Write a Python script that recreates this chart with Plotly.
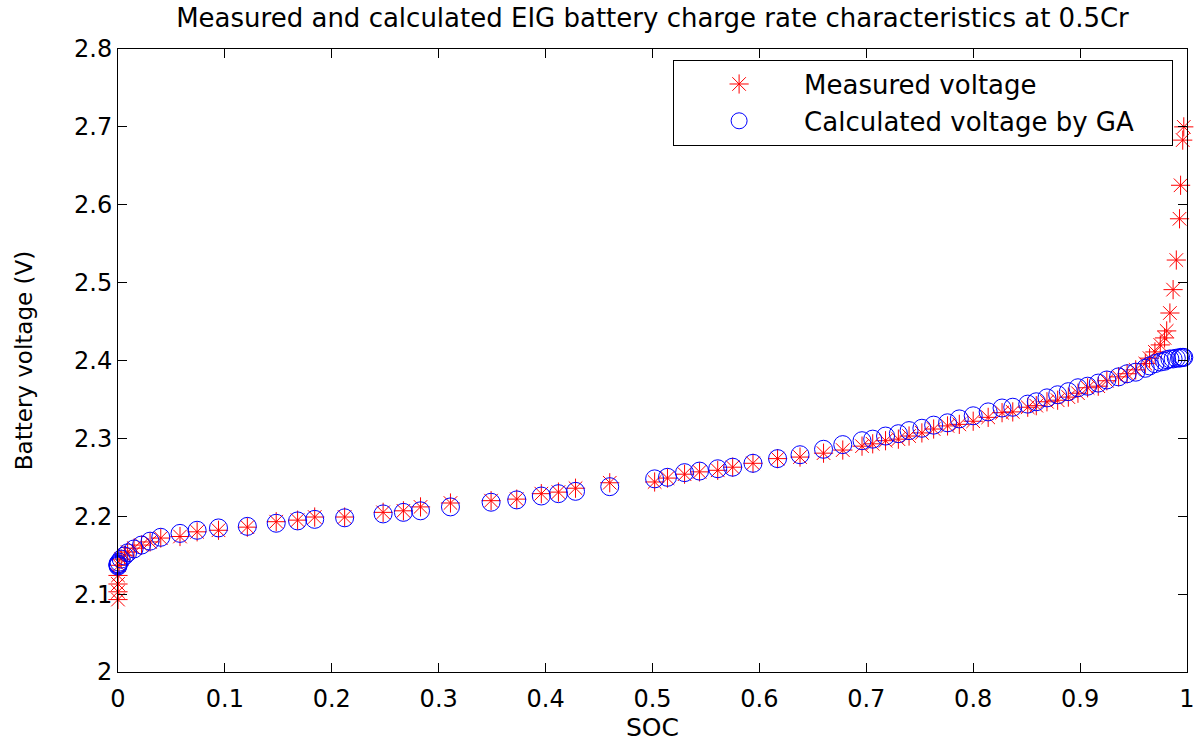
import plotly.graph_objects as go

# ---- data ----
soc = [0.000, 0.000, 0.000, 0.000, 0.001, 0.003, 0.006, 0.009, 0.015, 0.022,
       0.030, 0.040, 0.058, 0.074, 0.094, 0.121, 0.148, 0.168, 0.184, 0.212,
       0.248, 0.267, 0.283, 0.311, 0.349, 0.373, 0.396, 0.412, 0.428, 0.460,
       0.502, 0.514, 0.530, 0.544, 0.561, 0.575, 0.594, 0.617, 0.638, 0.660,
       0.678, 0.696, 0.706, 0.718, 0.730, 0.740, 0.752, 0.763, 0.776, 0.787,
       0.800, 0.814, 0.827, 0.837, 0.851, 0.859, 0.869, 0.879, 0.889, 0.898,
       0.907, 0.917, 0.925, 0.936, 0.944, 0.952, 0.961, 0.965, 0.970, 0.975,
       0.979, 0.981, 0.984, 0.987, 0.990, 0.993, 0.994, 0.996, 0.997]

v_measured = [2.093, 2.103, 2.113, 2.124, 2.137, 2.145, 2.150, 2.154, 2.159, 2.163,
              2.167, 2.172, 2.174, 2.180, 2.182, 2.186, 2.193, 2.195, 2.199, 2.199,
              2.205, 2.207, 2.212, 2.217, 2.220, 2.222, 2.229, 2.231, 2.236, 2.243,
              2.244, 2.249, 2.254, 2.257, 2.259, 2.263, 2.268, 2.274, 2.276, 2.281,
              2.285, 2.290, 2.293, 2.297, 2.299, 2.303, 2.307, 2.312, 2.316, 2.318,
              2.322, 2.327, 2.333, 2.334, 2.340, 2.342, 2.347, 2.349, 2.353, 2.358,
              2.365, 2.367, 2.374, 2.379, 2.383, 2.388, 2.396, 2.403, 2.411, 2.420,
              2.429, 2.438, 2.461, 2.491, 2.529, 2.582, 2.625, 2.683, 2.700]

v_calculated = [2.136, 2.137, 2.138, 2.139, 2.141, 2.145, 2.149, 2.153, 2.158, 2.163,
                2.168, 2.173, 2.178, 2.182, 2.185, 2.187, 2.191, 2.194, 2.196, 2.198,
                2.203, 2.205, 2.207, 2.212, 2.218, 2.221, 2.226, 2.229, 2.232, 2.238,
                2.248, 2.250, 2.256, 2.258, 2.261, 2.263, 2.268, 2.274, 2.279, 2.286,
                2.292, 2.297, 2.299, 2.303, 2.306, 2.310, 2.313, 2.317, 2.320, 2.325,
                2.329, 2.334, 2.339, 2.340, 2.344, 2.347, 2.352, 2.356, 2.360, 2.365,
                2.367, 2.371, 2.375, 2.379, 2.383, 2.385, 2.390, 2.393, 2.396, 2.398,
                2.399, 2.401, 2.402, 2.402, 2.403, 2.403, 2.404, 2.404, 2.404]

x_ticks = [0, 0.1, 0.2, 0.3, 0.4, 0.5, 0.6, 0.7, 0.8, 0.9, 1]
x_tick_labels = ["0", "0.1", "0.2", "0.3", "0.4", "0.5", "0.6", "0.7", "0.8", "0.9", "1"]
y_ticks = [2.0, 2.1, 2.2, 2.3, 2.4, 2.5, 2.6, 2.7, 2.8]
y_tick_labels = ["2", "2.1", "2.2", "2.3", "2.4", "2.5", "2.6", "2.7", "2.8"]

FONT = "DejaVu Sans"
PAD = "\u00a0" * 4  # widen the legend box to the right like the reference

fig = go.Figure()
fig.add_trace(go.Scatter(
    x=soc, y=v_measured, mode="markers", name="Measured voltage",
    marker=dict(symbol="asterisk-open", size=16, color="#ff0000",
                line=dict(color="#ff0000", width=1)),
    cliponaxis=False,
))
fig.add_trace(go.Scatter(
    x=soc, y=v_calculated, mode="markers", name="Calculated voltage by GA" + PAD,
    marker=dict(symbol="circle-open", size=18, color="#0000ff",
                line=dict(color="#0000ff", width=1)),
    cliponaxis=False,
))

axis_common = dict(
    showline=True, linecolor="black", linewidth=1, mirror="ticks",
    ticks="inside", ticklen=9, tickcolor="black", tickwidth=1,
    showgrid=False, zeroline=False, automargin=False,
    tickfont=dict(family=FONT, size=24, color="black"),
)

fig.update_layout(
    width=1201, height=742,
    margin=dict(l=118, r=14, t=49, b=70),
    paper_bgcolor="white", plot_bgcolor="white",
    font=dict(family=FONT, color="black"),
    title=dict(text="Measured and calculated EIG battery charge rate characteristics at 0.5Cr",
               x=0.5, xref="paper", xanchor="center", y=1 - 18 / 742, yanchor="middle",
               font=dict(family=FONT, size=26, color="black")),
    xaxis=dict(range=[0, 1], tickvals=x_ticks, ticktext=x_tick_labels,
               ticklabelstandoff=5,
               title=dict(text="SOC", font=dict(family=FONT, size=25), standoff=12),
               **axis_common),
    yaxis=dict(range=[2.0, 2.8], tickvals=y_ticks, ticktext=y_tick_labels,
               title=dict(text="Battery voltage (V)", font=dict(family=FONT, size=23), standoff=34),
               **axis_common),
    legend=dict(x=0.987, y=0.983, xanchor="right", yanchor="top",
                bordercolor="black", borderwidth=1, bgcolor="white",
                font=dict(family=FONT, size=26, color="black"),
                itemwidth=120, tracegroupgap=0),
    showlegend=True,
)

fig.write_html("out.html", config={"displayModeBar": False},
               post_script="document.body.style.margin='0px';")
